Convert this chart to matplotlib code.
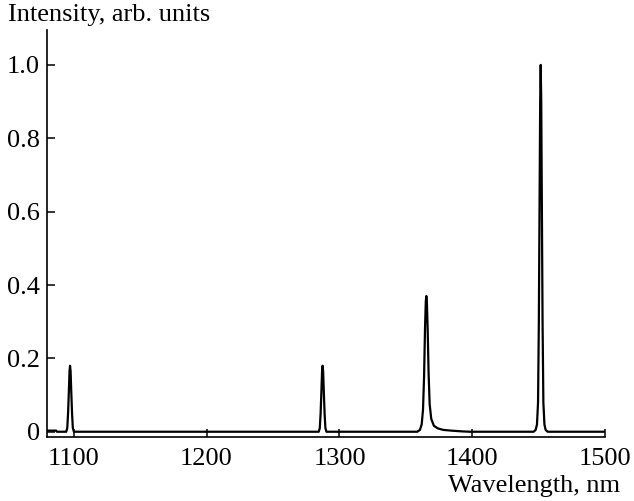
import matplotlib
matplotlib.use("Agg")
import matplotlib.pyplot as plt

# spectrum: wavelength (nm) and intensity (arb. units)
wavelength = [
    1080.0, 1087.0, 1087.5, 1094.5, 1095.3, 1095.9, 1096.5, 1097.0, 1097.4,
    1097.8, 1098.3, 1098.9, 1099.5, 1100.3,
    1284.4, 1285.2, 1285.8, 1286.4, 1286.9, 1287.3, 1287.7, 1288.2, 1288.8,
    1289.4, 1290.2,
    1358.5, 1360.5, 1361.8, 1362.8, 1363.6, 1364.3, 1364.9, 1365.3, 1365.7,
    1366.3, 1367.0, 1367.8, 1369.0, 1371.0, 1374.0, 1378.0, 1384.0, 1392.0,
    1398.0,
    1446.0, 1447.5, 1448.5, 1449.3, 1449.9, 1450.4, 1450.9, 1451.3, 1451.7,
    1452.2, 1452.7, 1453.3, 1454.1, 1455.0, 1456.5, 1500.0,
]
intensity = [
    0.003, 0.003, 0.0, 0.0, 0.01, 0.05, 0.11, 0.165, 0.18,
    0.165, 0.11, 0.05, 0.01, 0.0,
    0.0, 0.01, 0.05, 0.11, 0.165, 0.18, 0.165, 0.11, 0.05,
    0.01, 0.0,
    0.0, 0.005, 0.02, 0.06, 0.15, 0.28, 0.355, 0.37, 0.355,
    0.28, 0.16, 0.075, 0.035, 0.016, 0.009, 0.005, 0.003, 0.001,
    0.0,
    0.0, 0.005, 0.02, 0.08, 0.3, 0.6, 0.9, 1.0, 0.9,
    0.6, 0.3, 0.08, 0.02, 0.005, 0.0, 0.0,
]

x_ticks = [1100, 1200, 1300, 1400, 1500]
y_ticks = [0, 0.2, 0.4, 0.6, 0.8, 1.0]
y_labels = ["0", "0.2", "0.4", "0.6", "0.8", "1.0"]

plt.rcParams["font.family"] = ["Liberation Serif", "DejaVu Serif"]

fig = plt.figure(figsize=(6.34, 5.01), dpi=100)
ax = fig.add_axes([0.074, 0.128, 0.881, 0.812])

ax.plot(wavelength, intensity, color="black", lw=1.6)

ax.set_xlim(1080, 1500)
ax.set_ylim(-0.014, 1.095)
ax.set_xticks(x_ticks)
ax.set_yticks(y_ticks)
ax.set_yticklabels(y_labels)

for side in ("top", "right"):
    ax.spines[side].set_visible(False)
for side in ("left", "bottom"):
    ax.spines[side].set_linewidth(1.2)

ax.tick_params(direction="in", length=6, width=1.1, labelsize=19)
ax.tick_params(axis="x", pad=8)
ax.tick_params(axis="y", pad=5)

fig.text(0.013, 0.97, "Intensity, arb. units", fontsize=19, ha="left", va="center")
fig.text(0.978, 0.030, "Wavelength, nm", fontsize=19, ha="right", va="center")

fig.savefig("out.png", dpi=100)
